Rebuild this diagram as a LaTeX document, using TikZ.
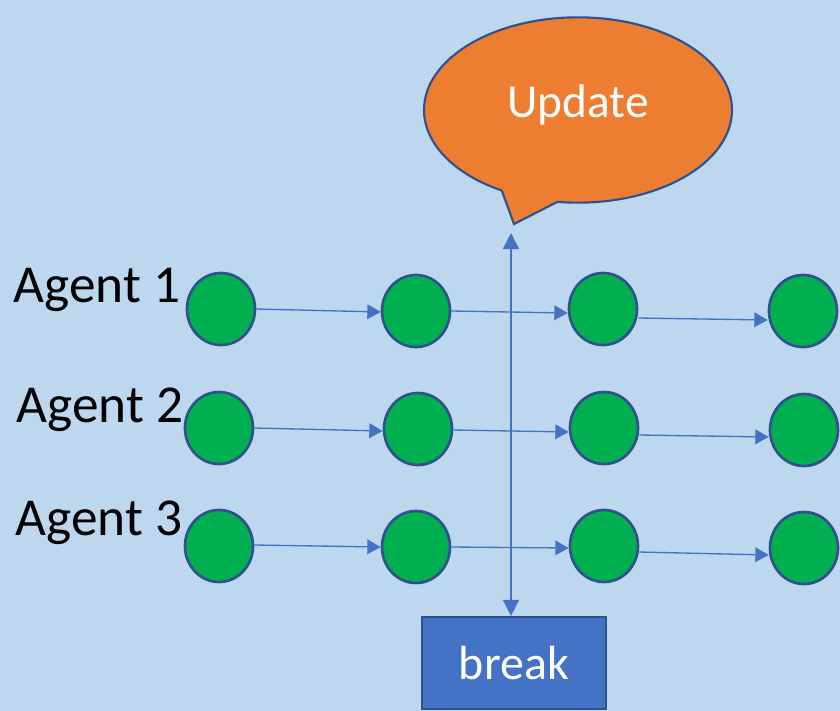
\documentclass[tikz,border=0pt]{standalone}
\usepackage{fontspec}
\setmainfont{Carlito}
\usetikzlibrary{shapes.callouts,shapes.geometric,arrows.meta,calc}
\definecolor{bg}{HTML}{BDD7EE}
\definecolor{agreen}{HTML}{00B050}
\definecolor{edgeblue}{HTML}{2F528F}
\definecolor{arrblue}{HTML}{4472C4}
\definecolor{aorange}{HTML}{ED7D31}
\tikzset{
  agent/.style={ellipse, fill=agreen, draw=edgeblue, line width=2pt, minimum width=51pt, minimum height=54pt, inner sep=0pt},
  arr/.style={draw=arrblue, line width=1pt, -{Triangle[length=10pt,width=11pt]}},
  lbl/.style={font=\fontsize{40}{44}\selectfont, text=black, inner sep=0pt}
}
\begin{document}
\begin{tikzpicture}[x=0.75pt,y=-0.75pt]
\fill[bg] (0,0) rectangle (840,711);
\useasboundingbox (0,0) rectangle (840,711);
% callout
\node[ellipse callout, fill=aorange, draw=edgeblue, line width=1.6pt,
      minimum width=231pt, minimum height=139pt, callout absolute pointer={(514,224)},
      callout pointer arc=22, inner sep=0pt]
      (upd) at (578,110) {};
\node[text=white, font=\fontsize{35.5}{40}\selectfont, inner sep=0pt] (updtxt) at (578,105) {Update};
% labels
\node[lbl] (l1) at (97,290) {Agent 1};
\node[lbl] (l2) at (100,410) {Agent 2};
\node[lbl] (l3) at (99,523) {Agent 3};
% circles
\node[agent] (c11) at (221,309) {};
\node[agent] (c12) at (416,311) {};
\node[agent] (c13) at (603,309) {};
\node[agent] (c14) at (803,311) {};
\node[agent] (c21) at (219,428) {};
\node[agent] (c22) at (418,429) {};
\node[agent] (c23) at (604,428) {};
\node[agent] (c24) at (804,430) {};
\node[agent] (c31) at (219,546) {};
\node[agent] (c32) at (416,547) {};
\node[agent] (c33) at (604,546) {};
\node[agent] (c34) at (804,548) {};
% break
\node[rectangle, fill=arrblue, draw=edgeblue, line width=1.6pt, minimum width=138pt, minimum height=69pt,
      text=white, font=\fontsize{36}{40}\selectfont, inner sep=0pt] (brk) at (514,663) {break};
% row arrows
\draw[arr] (c11.east) -- ($(c12.west)+(0,1)$);
\draw[arr] (c12.east) -- ($(c13.west)+(0,4)$);
\draw[arr] ($(c13.east)+(0,9)$) -- ($(c14.west)+(0,9)$);
\draw[arr] (c21.east) -- ($(c22.west)+(0,2)$);
\draw[arr] ($(c22.east)+(0,1)$) -- ($(c23.west)+(0,4)$);
\draw[arr] ($(c23.east)+(0,7)$) -- ($(c24.west)+(0,7)$);
\draw[arr] ($(c31.east)+(0,-1)$) -- (c32.west);
\draw[arr] (c32.east) -- ($(c33.west)+(0,2)$);
\draw[arr] ($(c33.east)+(0,6)$) -- ($(c34.west)+(0,7)$);
% vertical double arrow
\coordinate (vtop) at (511,233);
\draw[draw=arrblue, line width=1pt, {Triangle[length=12pt,width=12pt]}-{Triangle[length=12pt,width=12pt]}] (vtop) -- (vtop |- brk.north);
\end{tikzpicture}
\end{document}
